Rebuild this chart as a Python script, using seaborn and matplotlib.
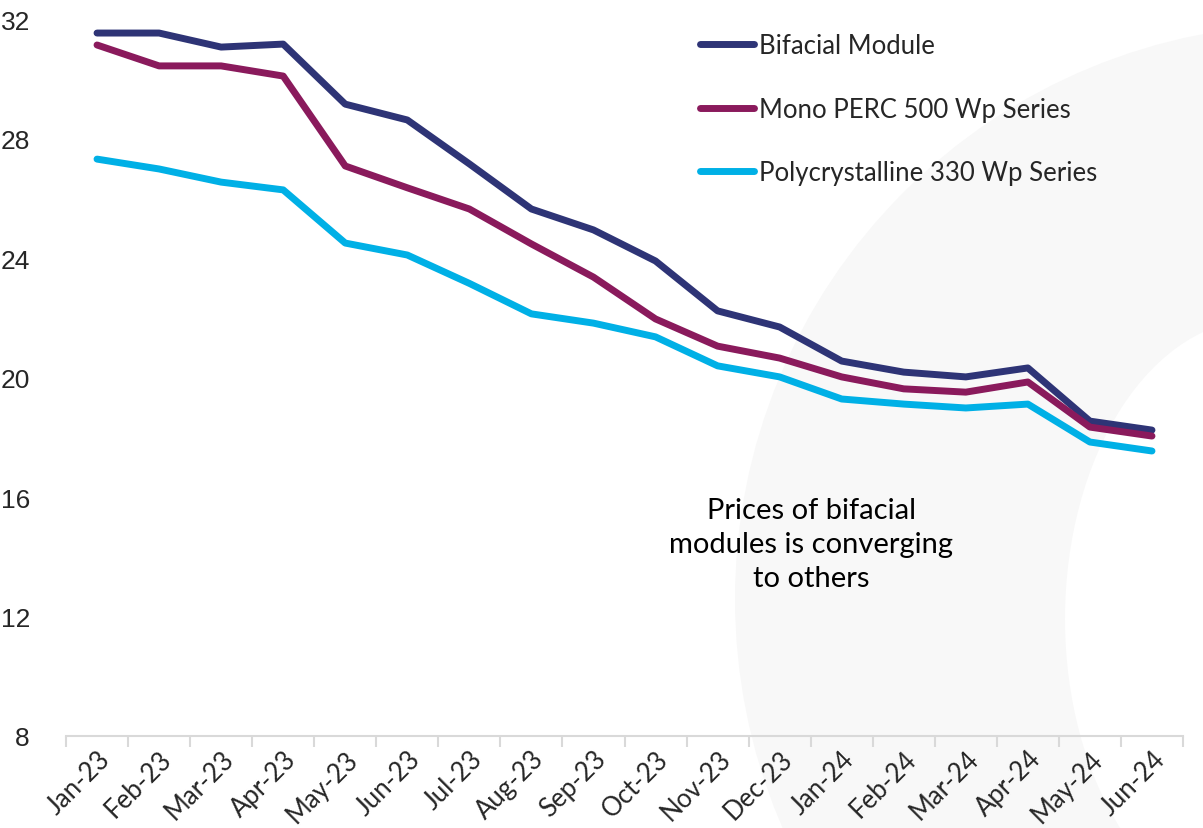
import matplotlib
matplotlib.use("Agg")
import pandas as pd
import matplotlib.pyplot as plt
import matplotlib.transforms as mtransforms
import seaborn as sns
from matplotlib.patches import Ellipse
from matplotlib.ticker import FixedLocator

# Data (prices)
months = ["Jan-23", "Feb-23", "Mar-23", "Apr-23", "May-23", "Jun-23",
          "Jul-23", "Aug-23", "Sep-23", "Oct-23", "Nov-23", "Dec-23",
          "Jan-24", "Feb-24", "Mar-24", "Apr-24", "May-24", "Jun-24"]

bifacial = [31.53, 31.53, 31.06, 31.16, 29.15, 28.62, 27.15, 25.64, 24.94,
            23.90, 22.23, 21.69, 20.55, 20.18, 20.02, 20.32, 18.54, 18.24]
mono_perc = [31.13, 30.43, 30.43, 30.09, 27.08, 26.35, 25.64, 24.47, 23.36,
             21.96, 21.05, 20.65, 20.02, 19.62, 19.51, 19.85, 18.34, 18.04]
poly = [27.31, 26.98, 26.54, 26.28, 24.50, 24.10, 23.15, 22.13, 21.82,
        21.36, 20.39, 20.02, 19.28, 19.11, 18.98, 19.11, 17.84, 17.54]

series_names = ["Bifacial Module", "Mono PERC 500 Wp Series",
                "Polycrystalline 330 Wp Series"]
colors = ["#2E3476", "#8A1A5C", "#00B0E6"]

y_ticks = [8, 12, 16, 20, 24, 28, 32]

annotation = "Prices of bifacial\nmodules is converging\nto others"

# Long format table for seaborn
frames = []
for name, vals in zip(series_names, [bifacial, mono_perc, poly]):
    frames.append(pd.DataFrame({"idx": range(len(months)), "month": months,
                                "price": vals, "series": name}))
data = pd.concat(frames, ignore_index=True)

sns.set_style("white")
plt.rcParams["font.family"] = ["Lato", "DejaVu Sans"]

fig = plt.figure(figsize=(12.03, 8.29), dpi=100, facecolor="white")

# faint watermark shape in the background
W, H = 1203, 829
outer = Ellipse((1310 / W, 1 - 600 / H), 2 * 575 / W, 2 * 575 / H,
                transform=fig.transFigure, facecolor="#F8F8F8",
                edgecolor="none", zorder=-2)
inner = Ellipse((1260 / W, 1 - 620 / H), 2 * 195 / W, 2 * 300 / H,
                transform=fig.transFigure, facecolor="white",
                edgecolor="none", zorder=-1)
fig.add_artist(outer)
fig.add_artist(inner)

ax = fig.add_axes([66 / W, 1 - 737 / H, 1117 / W, 717 / H])
ax.patch.set_alpha(0)

sns.lineplot(
    data=data,
    x="idx",
    y="price",
    hue="series",
    palette=dict(zip(series_names, colors)),
    linewidth=5,
    ax=ax,
    legend=False
)

ax.set_xlim(-0.5, len(months) - 0.5)
ax.set_ylim(8, 32)

ax.set_xticks(range(len(months)))
ax.set_xticklabels(months, rotation=45, ha="right", rotation_mode="anchor",
                   fontsize=18.5)
shift = mtransforms.ScaledTranslation(-2 / 100, 0, fig.dpi_scale_trans)
for lab in ax.get_xticklabels():
    lab.set_transform(lab.get_transform() + shift)
ax.xaxis.set_minor_locator(FixedLocator([i - 0.5 for i in range(len(months) + 1)]))
ax.tick_params(axis="x", which="major", length=0, pad=7)
ax.tick_params(axis="x", which="minor", length=8, width=1.5, color="#D9D9D9",
               bottom=True)

ax.set_yticks(y_ticks)
ax.set_yticklabels([str(v) for v in y_ticks], fontsize=19,
                   family="Liberation Sans")
ax.tick_params(axis="y", length=0, pad=26)

ax.set_xlabel("")
ax.set_ylabel("")

for side in ["top", "right", "left"]:
    ax.spines[side].set_visible(False)
ax.spines["bottom"].set_color("#D9D9D9")
ax.spines["bottom"].set_linewidth(1.5)

# Legend
handles = [plt.Line2D([], [], color=c, linewidth=5, solid_capstyle="round")
           for c in colors]
ax.legend(handles, series_names, loc="upper left",
          bbox_to_anchor=(690 / W, 1 - 24 / H), bbox_transform=fig.transFigure,
          frameon=False, fontsize=18.5, handlelength=2.1, handletextpad=0.2,
          labelspacing=1.49, borderaxespad=0)

ax.text(811 / W, 1 - 545 / H, annotation, transform=fig.transFigure,
        ha="center", va="center", fontsize=21, linespacing=1.4,
        color="black")

plt.savefig("out.png", dpi=100, facecolor="white")
plt.close()
